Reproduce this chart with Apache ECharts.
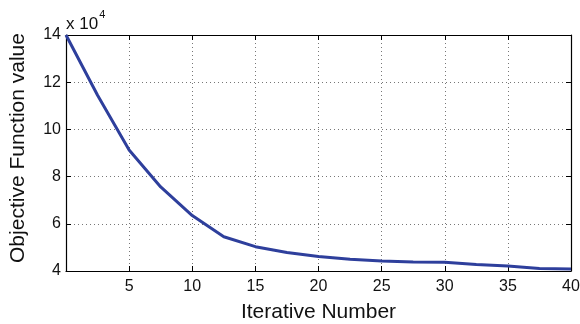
<!DOCTYPE html>
<html>
<head>
<meta charset="utf-8">
<script src="https://cdn.jsdelivr.net/npm/echarts@6/dist/echarts.min.js"></script>
<style>
  html, body { margin: 0; padding: 0; background: #fff; }
  #main { width: 580px; height: 324px; }
</style>
</head>
<body>
<div id="main"></div>
<script>
    var iterations = [0, 2.5, 5, 7.5, 10, 12.5, 15, 17.5, 20, 22.5, 25, 27.5, 30, 32.5, 35, 37.5, 40];
    var objValues = [140000, 114500, 91300, 75600, 63500, 54500, 50300, 47800, 46100, 45000, 44200, 43800, 43700, 42800, 42100, 41100, 40800];
    var yTicks = [40000, 60000, 80000, 100000, 120000, 140000];
    var xTicks = [5, 10, 15, 20, 25, 30, 35, 40];

    var chart = echarts.init(document.getElementById('main'));
    var data = [];
    for (let i = 0; i < iterations.length; i++) {
        data.push([iterations[i], objValues[i]]);
    }
    var font = 'Liberation Sans, Arial, sans-serif';
    var frame = { show: true, onZero: false, lineStyle: { color: '#000', width: 1.2 } };

    chart.setOption({
        animation: false,
        grid: { left: 66, right: 9, top: 35, bottom: 53, outerBoundsMode: 'none', containLabel: false },
        graphic: [{
            type: 'text',
            left: 66,
            top: 9,
            style: {
                text: '{a|x 10}{b|4}',
                rich: {
                    a: { fontSize: 17, fontFamily: font, fill: '#111', verticalAlign: 'bottom', lineHeight: 24 },
                    b: { fontSize: 11, fontFamily: font, fill: '#111', verticalAlign: 'top', padding: [0, 0, 10, 1] }
                }
            }
        }],
        xAxis: [{
            type: 'value',
            min: 0, max: 40, interval: 5,
            axisLine: frame,
            axisTick: { show: true, inside: true, length: 5, lineStyle: { color: '#000' } },
            axisLabel: {
                fontSize: 16, fontFamily: font, color: '#111', margin: 8,
                formatter: function (v) { return xTicks.indexOf(v) >= 0 ? String(v) : ''; }
            },
            splitLine: { show: true, lineStyle: { color: '#777', type: [1, 3], width: 1 } },
            name: 'Iterative Number',
            nameLocation: 'middle',
            nameGap: 31,
            nameTextStyle: { fontSize: 21, fontFamily: font, color: '#111' }
        }, {
            type: 'value',
            position: 'top',
            min: 0, max: 40, interval: 5,
            axisLine: frame,
            axisTick: { show: true, inside: true, length: 5, lineStyle: { color: '#000' } },
            axisLabel: { show: false },
            splitLine: { show: false }
        }],
        yAxis: [{
            type: 'value',
            min: 40000, max: 140000, interval: 20000,
            axisLine: frame,
            axisTick: { show: true, inside: true, length: 5, lineStyle: { color: '#000' } },
            axisLabel: {
                fontSize: 16, fontFamily: font, color: '#111', margin: 5,
                formatter: function (v) { return yTicks.indexOf(v) >= 0 ? String(v / 10000) : ''; }
            },
            splitLine: { show: true, lineStyle: { color: '#777', type: [1, 3], width: 1 } },
            name: 'Objective Function value',
            nameLocation: 'middle',
            nameGap: 37,
            nameTextStyle: { fontSize: 21, fontFamily: font, color: '#111', padding: [0, 0, 0, 10] }
        }, {
            type: 'value',
            position: 'right',
            min: 40000, max: 140000, interval: 20000,
            axisLine: frame,
            axisTick: { show: true, inside: true, length: 5, lineStyle: { color: '#000' } },
            axisLabel: { show: false },
            splitLine: { show: false }
        }],
        series: [{
            name: 'objective',
            type: 'line',
            data: data,
            showSymbol: false,
            color: '#2E3F9C',
            lineStyle: { width: 3, color: '#2E3F9C' }
        }]
    });
</script>
</body>
</html>
